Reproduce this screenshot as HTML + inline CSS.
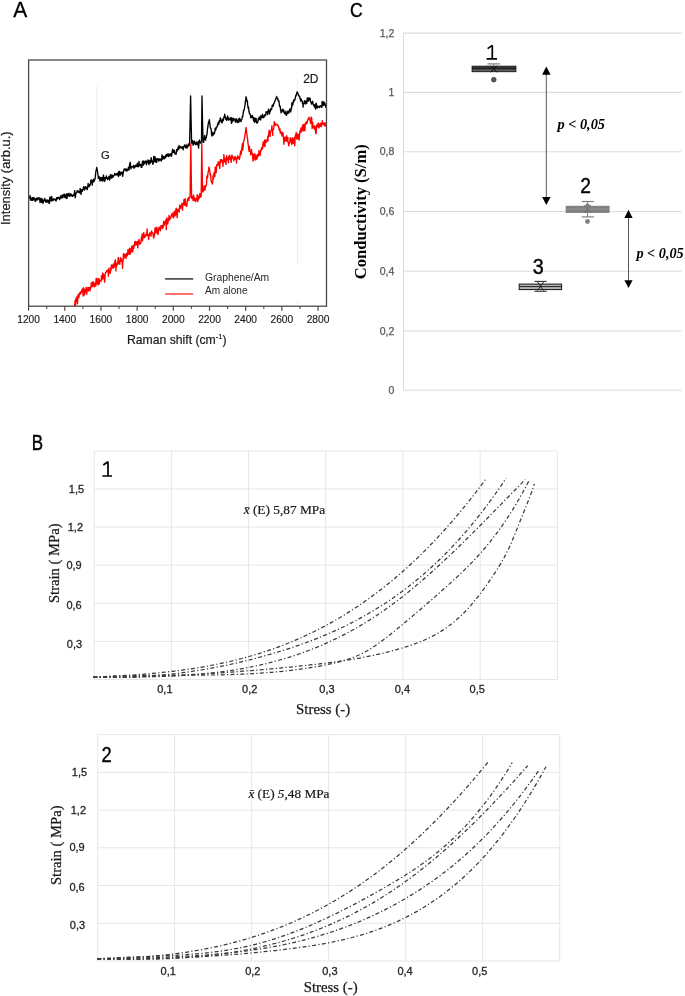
<!DOCTYPE html><html><head><meta charset="utf-8"><style>html,body{margin:0;padding:0;background:#fff;}svg{display:block;will-change:transform;}.s{font-family:"Liberation Sans",sans-serif;}.r{font-family:"Liberation Serif",serif;}</style></head><body>
<svg width="685" height="996" viewBox="0 0 685 996">
<rect width="685" height="996" fill="#fff"/>
<text class="s" x="13.2" y="16.7" font-size="22.8" textLength="14" lengthAdjust="spacingAndGlyphs" fill="#000" stroke="#000" stroke-width="0.35">A</text>
<line x1="97" y1="86" x2="97" y2="304" stroke="#bbbbbb" stroke-width="0.7" stroke-dasharray="0.8,1.2"/>
<line x1="297.4" y1="79.5" x2="297.4" y2="265" stroke="#bbbbbb" stroke-width="0.7" stroke-dasharray="0.8,1.2"/><rect x="297" y="301.8" width="0.9" height="0.9" fill="#c8c8c8"/>
<polyline points="28.6,197.8 28.92,197.33 29.24,196.66 29.56,196.6 29.88,198.47 30.2,195.68 30.52,200.15 30.84,198.1 31.16,198.86 31.48,199.02 31.8,200.42 32,199 32.12,197.71 32.44,198.71 32.76,200.32 33.08,197.71 33.4,198.2 33.72,197.75 34.04,199.14 34.36,199.74 34.68,198.1 35,200.95 35.32,201.21 35.64,200.67 35.96,200.66 36.28,198.56 36.6,198.66 36.92,197.84 37.24,198.89 37.56,199.96 37.88,198.47 38,199.5 38.2,198.06 38.52,197.82 38.84,198.29 39.16,199.04 39.48,198.04 39.8,200.27 40.12,202.64 40.44,201.43 40.76,199.5 41.08,198.21 41.4,199.04 41.72,202.34 42.04,200.43 42.36,199.14 42.68,200.86 43,203.46 43.32,201.25 43.64,201.29 43.96,200.79 44.28,199.46 44.6,198.33 44.92,199.38 45.24,200.16 45.56,201.56 45.88,202.28 46,200.5 46.2,201.51 46.52,201.62 46.84,199.9 47.16,202.16 47.48,201.36 47.8,200.07 48.12,200.78 48.44,200.51 48.76,202.26 49.08,203.42 49.4,203.34 49.72,197.97 50.04,196.98 50.36,198.57 50.68,200.09 51,201.17 51.32,199.72 51.64,196.45 51.96,198.64 52.28,200.7 52.6,200.28 52.92,200.52 53.24,199.14 53.56,198.92 53.88,199.54 54.2,199.89 54.52,199.56 54.84,199.05 55,199 55.16,199.35 55.48,199.55 55.8,200.95 56.12,200.96 56.44,199.15 56.76,197.77 57.08,197.44 57.4,198.78 57.72,198.37 58.04,197.64 58.36,197.79 58.68,197.24 59,198.58 59.32,197.71 59.64,199.55 59.96,198.8 60.28,198.18 60.6,195.97 60.92,197.45 61.24,198.1 61.56,195.81 61.88,196.32 62,197 62.2,194.94 62.52,197.15 62.84,197.85 63.16,195.7 63.48,196.35 63.8,194.51 64.12,195.3 64.44,194.09 64.76,197.45 65.08,197.01 65.4,195.75 65.72,195.03 66.04,198.06 66.36,198.44 66.68,193.7 67,195.4 67,198.43 67.32,196.02 67.64,193.87 67.96,196.15 68.28,195.04 68.6,193.8 68.92,193.24 69.24,195.82 69.56,196.27 69.88,194.5 70.2,195.21 70.52,193.62 70.84,195.78 71.16,195.14 71.48,194.52 71.8,194.85 72.12,196.29 72.44,196.32 72.76,195.77 73.08,195.03 73.4,194.95 73.72,195.59 74,194.5 74.04,195.5 74.36,193.23 74.68,190.59 75,195.43 75.32,197.59 75.64,194.91 75.96,193.3 76.28,192.89 76.6,192.76 76.92,192.41 77.24,190.72 77.56,190.93 77.88,190.61 78.2,192.01 78.52,191.65 78.84,192.28 79.16,191.71 79.48,192.84 79.8,192.49 80,191 80.12,188.51 80.44,189.38 80.76,192.5 81.08,194.39 81.4,190.53 81.72,189.76 82.04,189.75 82.36,191.31 82.68,189.43 83,189.85 83.32,188.1 83.64,186.61 83.96,188.59 84.28,189.45 84.6,190.05 84.92,187.77 85.24,186.71 85.56,188.04 85.88,187.73 86,187 86.2,187.23 86.52,188.53 86.84,188.01 87.16,189.63 87.48,188.55 87.8,186.62 88.12,183.46 88.44,185.87 88.76,186.23 89.08,186.63 89.4,186.43 89.72,184.46 90.04,185.2 90.36,184.08 90.4,184 90.68,181.8 91,179.84 91.32,179.88 91.64,180.76 91.96,181.43 92.28,185.09 92.6,182.01 92.92,180.25 93,182 93.24,180.66 93.56,179.26 93.88,181.68 94.2,181.11 94.52,179.47 94.8,179 94.84,179.61 95.16,178.14 95.48,175.13 95.8,172 95.8,172.1 96.12,170.14 96.44,169.6 96.7,167.5 96.76,167.62 97.08,169.1 97.4,170.87 97.6,172 97.72,172.97 98.04,175.54 98.36,178.51 98.6,178 98.68,176.3 99,176.46 99.32,177.32 99.64,177.33 99.96,180.98 100,180.5 100.28,179.65 100.6,179.48 100.92,177.37 101.24,178.01 101.56,180.29 101.88,180.12 102,179 102.2,181.16 102.52,177.34 102.84,177.75 103.16,177.32 103.48,174.89 103.8,180.73 104.12,179.33 104.44,177.58 104.76,181.32 105.08,179.95 105.4,178.8 105.72,177.31 106.04,177.45 106.36,175.86 106.68,178.43 107,177.48 107.32,178.15 107.64,179.58 107.96,178.43 108.28,178.02 108.6,177.62 108.92,176.51 109.24,178.74 109.56,180.01 109.88,179 110,177 110.2,175.57 110.52,174.69 110.84,174.56 111.16,177.87 111.48,176.88 111.8,178.09 112.12,175.26 112.44,175.12 112.76,176.2 113.08,177.23 113.4,176.1 113.72,175.86 114.04,175.53 114.36,175.16 114.68,173.49 115,174.69 115.32,174.58 115.64,174.75 115.96,175.12 116.28,173.56 116.6,173.89 116.92,173.87 117.24,174.89 117.56,174.99 117.88,172.81 118.2,174.97 118.52,176.47 118.84,171.59 119.16,171.26 119.48,171.47 119.8,172.88 120.12,175.34 120.44,173.13 120.7,172.7 120.76,173.2 121.08,172.14 121.4,173.93 121.72,173.42 122.04,173.96 122.36,172.19 122.68,176.29 123,173.88 123.32,172.47 123.64,170.92 123.96,169.42 124.28,169.04 124.6,169.72 124.92,169.12 125.24,170.01 125.56,168.96 125.88,170.75 126.2,171.01 126.52,169.01 126.84,170.73 127.16,169.43 127.48,170.68 127.8,170.08 128.12,170.02 128.44,167.09 128.76,168.09 129.08,169.92 129.4,166.6 129.72,163.58 130,167.4 130.04,162.19 130.36,163.11 130.68,166.35 131,168.89 131.32,166.98 131.64,167.39 131.96,166.95 132.28,166.87 132.6,166.57 132.92,166.64 133.24,167.02 133.56,165.36 133.88,168.1 134.2,168.25 134.52,166.76 134.84,167.38 135.16,165.38 135.48,165.3 135.8,166.24 136.12,165.79 136.44,165.14 136.76,164.68 137,166 137.08,166.59 137.4,163.28 137.72,165.56 138.04,165.61 138.36,166.71 138.68,165.49 139,161.33 139.32,165.23 139.64,165.72 139.96,164.89 140.28,164.35 140.6,165.69 140.92,164.79 141.24,167.3 141.56,166.49 141.88,167.41 142.2,162.98 142.52,161.22 142.84,164.63 143.16,165.27 143.48,163.42 143.8,160.97 144,163.4 144.12,164.11 144.44,163.14 144.76,162.86 145.08,162.44 145.4,161.29 145.72,161.26 146.04,160.97 146.36,164.75 146.68,162.56 147,162.69 147.32,161.2 147.64,162.52 147.96,159.83 148.28,162.84 148.6,162.89 148.92,164.65 149.24,160.45 149.56,161.45 149.88,162.54 150.2,163.32 150.52,161.13 150.84,160.53 151.16,157.59 151.48,159.2 151.8,161.72 152.12,162.59 152.44,161.34 152.76,164.29 153.08,163.9 153.4,160.12 153.5,160.4 153.72,156.54 154.04,158.82 154.36,161.7 154.68,160.19 155,156.73 155.32,159.32 155.64,162.02 155.96,159.34 156.28,158.93 156.6,162.37 156.92,159.94 157.24,158.63 157.56,159.52 157.88,159.03 158.2,158.68 158.52,160.92 158.84,161.13 159.16,160.26 159.48,159.03 159.8,160.15 160.12,158.79 160.44,159.28 160.76,160.15 161.08,160.21 161.4,161.11 161.72,158.57 162.04,154.91 162.36,155.74 162.68,159.12 162.8,157.5 163,157.62 163.32,156.42 163.64,158.26 163.96,157.2 164.28,158.79 164.6,156.73 164.92,158.33 165.24,157.58 165.56,155.75 165.88,157.29 166.2,154.69 166.52,154.52 166.84,156.34 167.16,154.64 167.48,154.19 167.8,154.22 168.12,153.83 168.44,156.47 168.76,156.11 169.08,154.77 169.4,154.53 169.72,155.66 170,154.3 170.04,156.03 170.36,153.86 170.68,154.91 171,153.75 171.32,153.83 171.64,156.05 171.96,153.02 172.28,151.51 172.6,149.22 172.92,150.01 173.24,152.49 173.56,151.56 173.88,152.33 174.2,150.15 174.52,150.45 174.84,152.86 175.16,154.08 175.48,153.03 175.8,153.66 176.12,154.24 176.44,152.56 176.76,149.42 176.8,150.5 177.08,151.15 177.4,149.89 177.72,150.04 178.04,147.27 178.36,148.03 178.68,149.28 179,145.67 179.32,146.69 179.64,148 179.96,146.15 180.28,147.87 180.6,147.13 180.92,147.47 181.24,147.66 181.56,147.94 181.88,146.97 182.2,147.33 182.52,146.69 182.84,148.45 183.16,149.91 183.48,147.8 183.8,146.65 184,146.6 184.12,146.97 184.44,145.15 184.76,144.87 185.08,146.65 185.4,146.65 185.72,147.89 186.04,147.88 186.36,144.98 186.68,145.72 187,148.01 187.32,147.07 187.64,146.43 187.96,146.46 188.28,143.96 188.6,145.05 188.92,145.84 189.24,145.17 189.56,143.19 189.6,143.5 189.88,130.46 190.1,120 190.2,115.08 190.52,100.04 190.6,96 190.84,106.83 191.1,120 191.16,122.57 191.48,136.85 191.6,143 191.8,143.15 192.12,140.78 192.44,140.47 192.76,142.5 193.08,145.22 193.4,145.04 193.72,141.59 194.04,141.85 194.36,140.95 194.68,143.57 195,143 195,142.63 195.32,144.41 195.64,143.36 195.96,144.71 196.28,142.01 196.6,143.24 196.92,144.01 197.24,143.08 197.56,144.76 197.88,143.19 198.2,141.33 198.52,148.07 198.84,144.57 199.16,142.09 199.48,140.01 199.8,141.61 200,142 200.12,142.68 200.44,142.72 200.76,143.25 201.08,142.01 201.4,141.77 201.5,141.5 201.72,121.44 202,96 202.04,98.39 202.36,113.62 202.5,120 202.68,127.21 203,141.5 203,142.2 203.32,141.58 203.64,142.29 203.96,139.85 204.28,139.11 204.6,135.48 204.92,137.25 205,139 205.24,139.53 205.56,140.13 205.88,137.46 206.2,137.87 206.52,136.26 206.84,135.04 207,133 207.16,133.28 207.48,128.93 207.8,127.52 208.12,124.55 208.3,124 208.44,122.51 208.76,121.73 209.08,120.73 209.3,119.7 209.4,119.99 209.72,123.09 210.04,125.21 210.36,127.85 210.5,128 210.68,128.18 211,128.28 211.32,131.04 211.64,135.24 211.96,134.84 212,136 212.28,134.99 212.6,134.8 212.92,132.17 213.24,135.12 213.56,134.02 213.88,134.28 214.2,133.18 214.52,133.06 214.84,131.62 215,131 215.16,128.2 215.48,128 215.8,129.95 216.12,128.58 216.44,127.34 216.76,126.85 217.08,126.84 217.4,125.02 217.72,125.17 218.04,122.78 218.36,122.84 218.68,124.46 219,122 219,120.94 219.32,122.35 219.64,120.44 219.96,121.44 220.28,118 220.6,118.29 220.92,119.36 221.24,120.38 221.56,122.53 221.88,122.24 222.2,122.74 222.52,121.66 222.84,119.02 223.16,118.75 223.48,120.24 223.7,118.5 223.8,117.84 224.12,116.39 224.44,117.03 224.76,114.1 225.08,116.66 225.4,117.2 225.72,119.25 226.04,118.07 226.36,118.49 226.68,120.36 227,117.7 227.32,118.3 227.64,116.03 227.96,118.49 228.28,119.81 228.6,120.05 228.92,117.92 229.24,119.24 229.56,119.55 229.88,119.12 230,119 230.2,119.93 230.52,119.54 230.84,117.37 231.16,117.89 231.48,123.39 231.8,122.68 232.12,118.06 232.44,119.93 232.76,120.91 233.08,121.03 233.4,119.84 233.72,118.3 234.04,119.06 234.36,119.1 234.68,119.89 235,120 235,120.04 235.32,122 235.64,121.97 235.96,118.63 236.28,118.9 236.6,119.35 236.92,121.99 237.24,121.24 237.56,122.57 237.88,120.33 238.2,120.08 238.52,119.07 238.84,122.21 239.16,120.21 239.48,118.29 239.8,118.8 240,121 240.12,120.04 240.44,120.55 240.76,120.76 241.08,121.57 241.4,119.06 241.72,119.5 242.04,118.42 242.36,116.34 242.5,117 242.68,116.8 243,114.29 243.32,112.75 243.64,110.12 243.96,110.47 244.28,109.18 244.5,108 244.6,107.34 244.92,105.68 245.24,103.11 245.56,100.72 245.88,98.98 246,96.8 246.2,97.48 246.52,98.91 246.84,100.87 247.16,101.53 247.48,101.07 247.5,104 247.8,105.63 248.12,108.21 248.44,106.8 248.76,109.22 249,112 249.08,111.17 249.4,113.38 249.72,113.73 250.04,114.34 250.36,114.22 250.68,117.49 251,116 251,117.85 251.32,116.3 251.64,117.25 251.96,115.9 252.28,115.5 252.6,116.36 252.92,117.76 253.24,118.64 253.56,120.76 253.88,117.58 254.2,118.06 254.52,122.37 254.84,121.14 255.16,118.09 255.48,121.2 255.8,121.16 256.12,118.34 256.4,122 256.44,122.06 256.76,123.14 257.08,123.18 257.4,121.97 257.72,122.47 258.04,120.47 258.36,118.69 258.68,118.56 259,119.71 259.32,116.95 259.64,119.33 259.96,117.43 260,119 260.28,119.85 260.6,119.95 260.92,115.46 261.24,116.2 261.56,117.44 261.88,116.97 262.2,117.79 262.52,114.3 262.84,116.88 263.16,117.42 263.48,116.97 263.8,117.46 264,116 264.12,116.93 264.44,115.03 264.76,115.92 265.08,114.79 265.4,115.83 265.72,115.05 266.04,111.66 266.36,112.59 266.68,112.71 267,111.98 267.32,111.63 267.64,114.58 267.96,112.99 268,111.5 268.28,110.57 268.6,109.27 268.92,110.47 269.24,110.53 269.56,113.9 269.88,111.62 270.2,111.62 270.52,109.52 270.84,108.76 271.16,109.07 271.48,109.68 271.7,108.7 271.8,108.32 272.12,106.22 272.44,104.97 272.76,105.79 273.08,106.29 273.4,105.38 273.72,103.62 274,103 274.04,103.12 274.36,102.99 274.68,101.5 275,100.67 275.32,99.88 275.64,99.57 275.96,98.19 276.28,97.58 276.6,96.97 276.7,96.5 276.92,97.74 277.24,98.28 277.56,98.88 277.88,98.57 278.2,100.97 278.5,101 278.52,100.45 278.84,100.54 279.16,102.97 279.48,106.08 279.8,106.5 280.12,106.05 280.4,107.6 280.44,109.46 280.76,110.29 281.08,112.86 281.4,111.48 281.72,110.55 282.04,110.87 282.36,109.72 282.68,109.26 283,111.38 283.32,112.08 283.64,110.02 283.96,111.25 284.28,112.44 284.5,113.4 284.6,113.19 284.92,113.86 285.24,113.75 285.56,114.08 285.88,111.11 286.2,115.18 286.52,115.34 286.84,113.22 287.16,113.55 287.48,113.11 287.8,111.2 288,112 288.12,113.24 288.44,112.67 288.76,113.04 289.08,111.5 289.4,110.58 289.72,109.1 290.04,109.11 290.36,109.51 290.68,112.03 291,109.77 291.32,107.54 291.5,108.7 291.64,107.12 291.96,102.75 292.28,105.64 292.6,103.45 292.92,104.62 293.24,101.85 293.56,100.29 293.88,101.55 293.9,101.7 294.2,99.66 294.52,100.15 294.84,99.93 295.16,98.84 295.48,96.76 295.8,95.48 296.12,95.81 296.44,93.92 296.76,93.46 297.08,91.93 297.1,91.8 297.4,92.82 297.72,92.76 298.04,93.85 298.36,95.08 298.68,95.76 299,95.62 299.32,96.48 299.64,95.99 299.7,97 299.96,98.51 300.28,98.18 300.6,101.09 300.92,100.74 301.24,99.11 301.56,100.4 301.88,100.95 302.2,101.16 302.52,103.45 302.84,103.79 303.16,107.15 303.2,104.6 303.48,103.11 303.8,103.33 304.12,102.39 304.44,100.61 304.76,103.56 305.08,103.93 305.4,102.98 305.6,101.1 305.72,102.46 306.04,101.19 306.36,102.63 306.68,103.63 307,100.64 307.32,97.87 307.64,99.18 307.96,101.03 308.28,101.27 308.6,97.97 308.92,98.6 309.24,99.45 309.56,99.87 309.6,98.8 309.88,97.99 310.2,99.22 310.52,101.95 310.84,102.05 311.16,102.72 311.48,104.01 311.8,103.36 312,103 312.12,102.44 312.44,101.1 312.76,101.79 313.08,104.33 313.4,104.72 313.72,104.76 314.04,106.22 314.36,105.51 314.68,107.12 314.9,107.6 315,105.53 315.32,104.21 315.64,109.09 315.96,107.55 316.28,103.28 316.6,105.98 316.92,107.73 317.24,107.27 317.56,107.76 317.88,105.97 318.2,107.11 318.52,107.05 318.84,106.72 319.16,106.72 319.48,107.56 319.6,107 319.8,106.19 320.12,105.82 320.44,106.37 320.76,106.03 321.08,106.56 321.4,107.16 321.72,107.42 322,105 322.04,101.44 322.36,104.33 322.68,105.6 323,104.98 323.32,104.16 323.64,101.7 323.96,105.26 324.28,104.63 324.6,102.8 324.92,103.46 325.24,104.23 325.56,106.55 325.88,107.34 326,105.8" fill="none" stroke="#000" stroke-width="1.35" stroke-linejoin="round"/>
<polyline points="74.5,306.2 74.8,304.21 75.1,300.55 75.4,305.64 75.7,299.15 76,299.42 76,302 76.3,298.12 76.6,297.02 76.9,297.45 77.2,301.03 77.5,303.92 77.8,298.28 78.1,294.57 78.4,296.53 78.7,294.28 78.7,295.4 79,297.53 79.3,293.84 79.6,293.99 79.9,292.46 80.2,293.68 80.5,294.17 80.8,291.61 81.1,292.33 81.4,292.49 81.7,291.13 82,289.33 82.3,288.94 82.6,291.48 82.9,292.87 83.2,296.07 83.5,287.58 83.8,291.08 84.1,293.21 84.4,294.99 84.7,292.62 85,289.3 85,291 85.3,291.91 85.6,290.56 85.9,291.15 86.2,287.19 86.5,293.89 86.8,293.98 87.1,289.97 87.4,290.81 87.7,289.36 88,287.32 88.3,289.27 88.6,290.97 88.9,288.05 89.2,287.34 89.5,288.11 89.8,289.67 90.1,290.74 90.4,287.12 90.7,288.49 91,287.17 91.3,282.76 91.6,285.02 91.9,286.26 92.2,286.61 92.5,286.15 92.8,281.71 93.1,284.82 93.4,283.62 93.7,282.29 94,286.37 94.3,286.96 94.6,284.42 94.9,286.39 95,284.9 95.2,284.12 95.5,282.68 95.8,285.9 96.1,278.4 96.4,282.32 96.7,283.75 97,278.45 97.3,281.12 97.6,282.44 97.9,284.48 98.2,284.79 98.5,280.4 98.8,278.38 99.1,283.88 99.4,283.76 99.7,279.91 100,280.67 100.3,280.94 100.6,280.9 100.9,280.45 101.2,281.19 101.5,275.6 101.8,279.83 102,277.9 102.1,278.07 102.4,278.95 102.7,272.95 103,278.63 103.3,277.52 103.6,274.11 103.9,276.32 104.2,276.52 104.5,282.17 104.8,280.88 105.1,276.41 105.4,272.82 105.7,272.39 106,272.64 106.3,271.76 106.6,270.71 106.9,271.12 107.2,271.59 107.5,270.8 107.8,269.85 108.1,270.66 108.4,276.29 108.7,268.65 109,268.13 109,271 109.3,270.37 109.6,271.6 109.9,272.76 110.2,273.45 110.5,271.33 110.8,267.77 111.1,270.04 111.4,264.95 111.7,266.84 112,266.18 112.3,265.2 112.6,268.05 112.9,267.36 113.2,268.21 113.5,263.87 113.8,267.53 114.1,267.39 114.4,265.28 114.7,261.8 115,262.78 115.3,259.79 115.6,260.26 115.9,270.93 116,263.8 116.2,268.05 116.5,263.64 116.8,264.89 117.1,265.16 117.4,264.41 117.7,262.62 118,260.63 118.3,257.35 118.6,262.29 118.9,263.29 119.2,263.87 119.5,261.76 119.8,264.4 120.1,259.7 120.4,257.59 120.7,261.32 121,258.52 121.2,259.6 121.3,259.54 121.6,261.12 121.9,260.07 122.2,261.89 122.5,268.43 122.8,262.67 123.1,260.64 123.4,253.72 123.7,257.31 124,258.55 124.3,255.57 124.6,254.15 124.9,256.18 125.2,254.73 125.5,254.29 125.8,257.97 126.1,258.44 126.4,255.47 126.7,253.39 127,255.1 127.3,255.91 127.6,254.27 127.9,249.6 128.2,251.19 128.5,253.18 128.8,254 129.1,254.5 129.2,251.5 129.4,248.7 129.7,248.2 130,248.42 130.3,254.05 130.6,251.68 130.9,251.68 131.2,252 131.5,248.38 131.8,245.87 132.1,246.97 132.4,248.49 132.7,251.83 133,249.91 133.3,245.65 133.6,248.46 133.9,248.3 134.2,244.36 134.5,244.51 134.8,241.74 135.1,245.29 135.4,244.07 135.7,241.38 136,242.54 136.3,244.33 136.5,244.2 136.6,244.8 136.9,244.85 137.2,241.75 137.5,243.23 137.8,247.9 138.1,243.7 138.4,240.64 138.7,241.3 139,239.47 139.3,243.84 139.6,243.39 139.9,244.31 140.2,243.72 140.5,242.47 140.8,242.91 141.1,240.7 141.4,237.9 141.7,236.66 142,236.52 142.3,233.93 142.6,240.9 142.9,235.41 143.2,236.56 143.5,233.88 143.8,232.33 143.8,237.7 144.1,236.49 144.4,236.69 144.7,237.43 145,235.2 145.3,236.61 145.6,236.61 145.9,234.36 146.2,234.08 146.5,235.39 146.7,234 146.8,233.27 147.1,228.82 147.4,233.5 147.7,235.33 148,234.69 148.3,236.45 148.6,239.56 148.9,236.57 149.2,236.41 149.5,233.34 149.8,232.92 150.1,233.66 150.4,233.25 150.7,235.02 151,233.9 151.1,236.2 151.3,231.82 151.6,230.94 151.9,232.66 152.2,232.2 152.5,232.75 152.8,232.94 153.1,234.01 153.4,237.29 153.7,238.17 154,236.07 154.3,233.93 154.6,235.94 154.9,229.38 155.2,227.64 155.5,232.32 155.8,232.52 156.1,231.92 156.4,231.18 156.7,227.4 157,228.64 157.3,234.06 157.6,233.66 157.9,230.6 158.2,234.14 158.4,230.4 158.5,228.61 158.8,229.85 159.1,226.93 159.4,227.72 159.7,228.42 160,228.43 160.3,230.84 160.6,229.72 160.9,225.62 161.2,225.91 161.5,227.72 161.8,226.95 162.1,225.5 162.4,227.88 162.7,228.41 163,225.69 163.3,226.8 163.6,221.67 163.9,221.29 164.2,225.24 164.2,225.3 164.5,222.05 164.8,223.06 165.1,222.56 165.4,223.39 165.7,219.9 166,222.87 166.3,229.66 166.6,222.95 166.9,217.61 167.2,221.99 167.5,223.13 167.8,224.01 168.1,220.77 168.4,218.93 168.6,219.4 168.7,220.7 169,215.36 169.3,219.07 169.6,218.28 169.9,219.72 170.2,217.08 170.5,218.28 170.8,217.23 171.1,217.09 171.4,215.24 171.7,213.82 172,214.56 172.3,215.55 172.6,215.48 172.9,217.1 173,212.8 173.2,215.46 173.5,217.84 173.8,214 174.1,213.42 174.4,211.25 174.7,212.87 175,216.13 175.3,214.32 175.6,214.95 175.9,209.44 176.2,208.17 176.5,211.03 176.8,209.9 177.1,217.6 177.4,214.99 177.4,211.4 177.7,209.61 178,209.2 178.3,210.55 178.6,209.94 178.9,211.76 179.2,212.16 179.5,207.55 179.8,204.88 180.1,207.56 180.4,206.89 180.7,208.41 181,206.05 181.3,206.94 181.6,205.53 181.8,204.1 181.9,203.23 182.2,206.43 182.5,210.1 182.8,206.34 183.1,203.42 183.4,204.32 183.7,202.41 184,199.42 184.3,202.75 184.6,205.21 184.9,200.85 185.2,198.59 185.5,202.32 185.8,205.52 186.1,203.9 186.4,204.01 186.7,206.42 187,204.76 187.3,201.61 187.6,198.94 187.6,199 187.9,199.01 188.2,199.99 188.5,197.49 188.8,200.6 189.1,198.41 189.4,197.31 189.7,197.61 190,195.54 190.1,197 190.3,178.62 190.4,170 190.6,156.75 190.8,143.5 190.9,150.11 191.2,170.16 191.2,170 191.5,191.61 191.6,198 191.8,198.45 192.1,197.56 192.4,196.64 192.7,198.25 193,200.52 193.3,196.44 193.6,195 193.9,198.28 194.2,200.67 194.3,199.6 194.5,197.79 194.8,199.3 195.1,198.6 195.4,200.04 195.7,201.67 196,199.2 196.3,198.65 196.6,199.94 196.9,197.82 197,198 197.2,194.58 197.5,195.74 197.8,201.64 198.1,198.85 198.4,199.32 198.7,199.05 199,196 199.3,198.13 199.6,195.57 199.9,193.32 200.2,195.88 200.2,197.2 200.5,195.95 200.8,196.58 201.1,196.68 201.2,195 201.4,178.22 201.5,170 201.7,152.47 201.8,143.5 202,155.99 202.2,170 202.3,175.13 202.6,191.01 202.6,192 202.9,190.34 203.2,191.71 203.5,189.19 203.7,190.2 203.8,189.28 204.1,186.42 204.4,186.05 204.7,190.1 205,190.16 205.3,185.99 205.6,187 205.9,185.88 206,186 206.2,185.54 206.5,184.23 206.8,177.2 207.1,175.58 207.4,178.11 207.5,178 207.7,176.9 208,172.7 208.3,171.47 208.6,170.54 208.9,167.21 209,167 209.2,167.87 209.5,169.83 209.8,171.44 210.1,174.82 210.2,175 210.4,173.49 210.7,175.62 211,180.23 211.3,181.01 211.6,182.47 211.9,182.41 211.9,182 212.2,183.06 212.5,184 212.8,179.71 213.1,175.43 213.4,179.13 213.7,176.43 214,172.63 214.3,172.82 214.6,171.97 214.9,176.49 215,172 215.2,167.01 215.5,170.44 215.8,169.5 216.1,172.74 216.4,169.66 216.7,164.79 217,165.98 217.3,164.91 217.6,164.92 217.9,164.16 218.2,161.63 218.5,165.01 218.8,163.1 219.1,162.82 219.4,166.67 219.7,168.36 220,163.78 220,163.4 220.3,159.6 220.6,162.94 220.9,161.62 221.2,161.54 221.5,159.66 221.8,160.02 222.1,160.62 222.4,160.83 222.7,163.29 223,166.39 223.3,160.51 223.6,159.14 223.7,160.6 223.9,154.55 224.2,161.78 224.5,157.65 224.8,157.95 225.1,160.38 225.4,162.44 225.7,162.2 226,164.39 226.3,159.54 226.6,155.62 226.9,159.26 227.2,159.65 227.5,157.64 227.8,158.09 228.1,158.82 228.4,162.82 228.7,158.08 229,155.87 229.3,158.23 229.6,155.24 229.9,159.31 230,159 230.2,156.93 230.5,156.89 230.8,157.98 231.1,162.41 231.4,159.84 231.7,155.46 232,155.08 232.3,157.74 232.6,158.03 232.9,156.78 233.2,158.55 233.5,158.52 233.8,160.85 234.1,159.68 234.4,158.19 234.7,157.89 235,156.47 235,158 235.3,159.06 235.6,157.16 235.9,157.62 236.2,157.81 236.5,162.96 236.8,158.09 237.1,158.74 237.4,158.22 237.7,155.8 238,156.86 238.3,156.72 238.6,157.82 238.9,158.32 239.2,159.45 239.5,159.09 239.8,156.23 240,157 240.1,154.67 240.4,152.73 240.7,150.89 241,154.69 241.3,153.37 241.6,151.17 241.9,147 242.2,145.31 242.5,143.4 242.5,150 242.8,149.99 243.1,148.07 243.4,144.18 243.7,140.47 244,140.56 244.3,139.44 244.5,138 244.6,138.45 244.9,135.22 245.2,133.38 245.5,131.79 245.8,129.66 246,128 246.1,127.31 246.4,130.12 246.7,133.14 247,135.16 247.3,137.76 247.5,138 247.6,138.93 247.9,142.35 248.2,144.58 248.5,146.45 248.8,150.04 249,148 249.1,151.48 249.4,146.33 249.7,148.87 250,151.07 250.3,151.71 250.6,151.48 250.6,154.8 250.9,153.29 251.2,153.57 251.5,149.39 251.8,152.77 252.1,154.06 252.4,153.56 252.7,158.01 253,161.14 253.3,154.55 253.6,154.37 253.9,159.95 254.2,158.17 254.5,155.19 254.8,153.64 255.1,157.67 255.4,158.24 255.7,160 256,155.52 256.3,155.98 256.4,157 256.6,156.59 256.9,159.06 257.2,158.04 257.5,154.36 257.8,154.41 258.1,154.5 258.4,156.07 258.7,153.29 259,150.55 259.3,151.6 259.6,152.73 259.9,154.87 260,152 260.2,155.42 260.5,152.28 260.8,149.76 261.1,150.92 261.4,148.9 261.7,147.4 262,148.79 262.3,149.16 262.6,148.84 262.9,144.04 263.2,141.9 263.5,145.24 263.5,145.4 263.8,146.16 264.1,142.05 264.4,141.11 264.7,139.94 265,146.5 265.3,142.31 265.6,141.22 265.9,140.03 266.2,140.51 266.5,142.26 266.8,140.57 267.1,140.04 267.4,141 267.7,136.46 268,140.67 268,138 268.3,135.17 268.6,136.27 268.9,132.59 269.2,130.05 269.5,132.76 269.8,136.18 270.1,136.35 270.4,133.13 270.7,131.15 271,131.27 271.3,130.39 271.6,129.08 271.9,125.6 272.2,129.31 272.5,131.31 272.8,135.45 272.8,130.2 273.1,129.6 273.4,129.24 273.7,128.85 274,125.33 274.3,121.72 274.6,123.95 274.9,125.4 275.2,125.38 275.5,123.72 275.5,125 275.8,124.34 276.1,124.83 276.4,124.93 276.7,124.49 277,124.48 277,124.4 277.3,125.38 277.6,125.6 277.9,125.16 278.2,126.42 278.5,127.41 278.8,126.83 279.1,129.78 279.4,129.43 279.7,130.66 280,129.01 280,131 280.3,133.11 280.6,131.32 280.9,131.7 281.2,131.97 281.5,134.3 281.8,134.85 282.1,136.08 282.4,135 282.7,132.48 283,132.78 283.3,135.78 283.6,139.77 283.9,144.27 284.2,141.78 284.5,137.54 284.5,139.6 284.8,139.76 285.1,139.3 285.4,137.29 285.7,141.14 286,139.97 286.3,137.84 286.6,135.59 286.9,141.13 287.2,140.36 287.5,138.87 287.8,137.39 288,140 288.1,142.94 288.4,142.99 288.7,145.77 289,144.14 289.3,142.47 289.6,143.2 289.9,141.14 290.2,137.65 290.5,139.44 290.8,141.57 291.1,139.48 291.4,139.63 291.5,142 291.7,144.42 292,138.81 292.3,137.78 292.6,138.94 292.9,143.13 293.2,143.32 293.5,139.81 293.8,140.61 294.1,137.96 294.4,140.34 294.7,145.73 295,142.43 295,139 295.3,135.48 295.6,136.46 295.9,133.92 296.2,132.54 296.5,138.3 296.8,139.18 297.1,138.43 297.4,138.5 297.7,133.99 298,138.28 298.3,134.53 298.5,136 298.6,137.58 298.9,138.98 299.2,140.07 299.5,135.82 299.8,132.42 300.1,130.52 300.4,132.25 300.7,129.58 301,127.9 301.3,130.21 301.6,131.79 301.9,129.05 302.2,126.91 302.5,128.08 302.8,124.8 303,128 303.1,130.57 303.4,129.59 303.7,130.78 304,124.39 304.3,127.38 304.6,126.72 304.9,130.78 305.2,124.88 305.5,122.84 305.8,124.11 306.1,123.17 306.4,121.73 306.7,123.78 307,123.21 307.3,122.47 307.6,120.77 307.9,118.91 307.9,119.7 308.2,119.25 308.5,118.19 308.8,118.69 309,117.4 309.1,117.29 309.4,118.78 309.7,119.24 310,120.74 310.3,121.28 310.6,123.48 310.9,120.75 311.2,116.97 311.5,117.51 311.8,119.33 312,124 312.1,128.55 312.4,124.47 312.7,122.37 313,126.87 313.3,127.44 313.6,126.3 313.9,128.03 314.2,127.44 314.5,126 314.8,129.59 314.9,129 315.1,126.25 315.4,128.28 315.7,132.7 316,133.94 316.3,131.61 316.6,126.4 316.9,124.62 317.2,126.98 317.5,126.35 317.8,125.87 318,126 318.1,122.81 318.4,123.26 318.7,127.43 319,128 319.3,124.59 319.6,126.53 319.9,126.45 320.2,123.51 320.5,124.81 320.8,125.98 321.1,123.13 321.4,126.57 321.7,124.32 322,123.91 322,124 322.3,120.65 322.6,124.11 322.9,124.04 323.2,123.06 323.5,123.65 323.8,124.96 324.1,123.81 324.4,122.98 324.7,124.57 325,126.1 325.3,124.39 325.6,122.95 325.9,125.77 326,124.4" fill="none" stroke="#ff0000" stroke-width="1.35" stroke-linejoin="round"/>
<rect x="28.6" y="60.0" width="297.9" height="246.2" fill="none" stroke="#4a4a4a" stroke-width="1.3"/>
<line x1="28.6" y1="306.2" x2="28.6" y2="310.7" stroke="#4a4a4a" stroke-width="1.2"/>
<line x1="46.69" y1="306.2" x2="46.69" y2="308.8" stroke="#4a4a4a" stroke-width="1.2"/>
<line x1="64.78" y1="306.2" x2="64.78" y2="310.7" stroke="#4a4a4a" stroke-width="1.2"/>
<line x1="82.87" y1="306.2" x2="82.87" y2="308.8" stroke="#4a4a4a" stroke-width="1.2"/>
<line x1="100.96" y1="306.2" x2="100.96" y2="310.7" stroke="#4a4a4a" stroke-width="1.2"/>
<line x1="119.05" y1="306.2" x2="119.05" y2="308.8" stroke="#4a4a4a" stroke-width="1.2"/>
<line x1="137.14" y1="306.2" x2="137.14" y2="310.7" stroke="#4a4a4a" stroke-width="1.2"/>
<line x1="155.23" y1="306.2" x2="155.23" y2="308.8" stroke="#4a4a4a" stroke-width="1.2"/>
<line x1="173.32" y1="306.2" x2="173.32" y2="310.7" stroke="#4a4a4a" stroke-width="1.2"/>
<line x1="191.41" y1="306.2" x2="191.41" y2="308.8" stroke="#4a4a4a" stroke-width="1.2"/>
<line x1="209.5" y1="306.2" x2="209.5" y2="310.7" stroke="#4a4a4a" stroke-width="1.2"/>
<line x1="227.59" y1="306.2" x2="227.59" y2="308.8" stroke="#4a4a4a" stroke-width="1.2"/>
<line x1="245.68" y1="306.2" x2="245.68" y2="310.7" stroke="#4a4a4a" stroke-width="1.2"/>
<line x1="263.77" y1="306.2" x2="263.77" y2="308.8" stroke="#4a4a4a" stroke-width="1.2"/>
<line x1="281.86" y1="306.2" x2="281.86" y2="310.7" stroke="#4a4a4a" stroke-width="1.2"/>
<line x1="299.95" y1="306.2" x2="299.95" y2="308.8" stroke="#4a4a4a" stroke-width="1.2"/>
<line x1="318.04" y1="306.2" x2="318.04" y2="310.7" stroke="#4a4a4a" stroke-width="1.2"/>
<text class="s" x="28.6" y="322.8" font-size="10.2" text-anchor="middle" fill="#1a1a1a" stroke="#1a1a1a" stroke-width="0.15">1200</text>
<text class="s" x="64.78" y="322.8" font-size="10.2" text-anchor="middle" fill="#1a1a1a" stroke="#1a1a1a" stroke-width="0.15">1400</text>
<text class="s" x="100.96" y="322.8" font-size="10.2" text-anchor="middle" fill="#1a1a1a" stroke="#1a1a1a" stroke-width="0.15">1600</text>
<text class="s" x="137.14" y="322.8" font-size="10.2" text-anchor="middle" fill="#1a1a1a" stroke="#1a1a1a" stroke-width="0.15">1800</text>
<text class="s" x="173.32" y="322.8" font-size="10.2" text-anchor="middle" fill="#1a1a1a" stroke="#1a1a1a" stroke-width="0.15">2000</text>
<text class="s" x="209.5" y="322.8" font-size="10.2" text-anchor="middle" fill="#1a1a1a" stroke="#1a1a1a" stroke-width="0.15">2200</text>
<text class="s" x="245.68" y="322.8" font-size="10.2" text-anchor="middle" fill="#1a1a1a" stroke="#1a1a1a" stroke-width="0.15">2400</text>
<text class="s" x="281.86" y="322.8" font-size="10.2" text-anchor="middle" fill="#1a1a1a" stroke="#1a1a1a" stroke-width="0.15">2600</text>
<text class="s" x="318.04" y="322.8" font-size="10.2" text-anchor="middle" fill="#1a1a1a" stroke="#1a1a1a" stroke-width="0.15">2800</text>
<line x1="29" y1="196" x2="31" y2="196" stroke="#4a4a4a" stroke-width="1"/>
<text class="s" x="127" y="343.9" font-size="12.2" fill="#1a1a1a" stroke="#1a1a1a" stroke-width="0.2">Raman shift (cm<tspan font-size="7.5" dy="-5">-1</tspan><tspan dy="5">)</tspan></text>
<text class="s" transform="translate(9.8,225) rotate(-90)" x="0" y="0" font-size="12.4" textLength="93.6" lengthAdjust="spacingAndGlyphs" fill="#1a1a1a" stroke="#1a1a1a" stroke-width="0.2">Intensity (arb.u.)</text>
<text class="s" x="101" y="158.5" font-size="11.3" fill="#1a1a1a" stroke="#1a1a1a" stroke-width="0.2">G</text>
<text class="s" x="303.2" y="82.5" font-size="12" fill="#1a1a1a" stroke="#1a1a1a" stroke-width="0.2">2D</text>
<line x1="165.1" y1="278.9" x2="193.2" y2="278.9" stroke="#404040" stroke-width="1.6"/>
<line x1="165.1" y1="294" x2="193.2" y2="294" stroke="#ff0000" stroke-width="1.1"/>
<text class="s" x="205" y="280.8" font-size="10" textLength="64.2" lengthAdjust="spacingAndGlyphs" fill="#262626">Graphene/Am</text>
<text class="s" x="205" y="293.7" font-size="10" textLength="42.5" lengthAdjust="spacingAndGlyphs" fill="#262626">Am alone</text>
<text class="s" x="349.9" y="17.2" font-size="20.5" textLength="12.7" lengthAdjust="spacingAndGlyphs" fill="#000" stroke="#000" stroke-width="0.45">C</text>
<line x1="403.5" y1="33.1" x2="681.5" y2="33.1" stroke="#dcdcdc" stroke-width="1.1"/>
<text class="s" x="394.3" y="36.8" font-size="10.5" text-anchor="end" fill="#595959" stroke="#595959" stroke-width="0.25">1,2</text>
<line x1="403.5" y1="92.4" x2="681.5" y2="92.4" stroke="#dcdcdc" stroke-width="1.1"/>
<text class="s" x="394.3" y="96.1" font-size="10.5" text-anchor="end" fill="#595959" stroke="#595959" stroke-width="0.25">1</text>
<line x1="403.5" y1="151.7" x2="681.5" y2="151.7" stroke="#dcdcdc" stroke-width="1.1"/>
<text class="s" x="394.3" y="155.4" font-size="10.5" text-anchor="end" fill="#595959" stroke="#595959" stroke-width="0.25">0,8</text>
<line x1="403.5" y1="211.5" x2="681.5" y2="211.5" stroke="#dcdcdc" stroke-width="1.1"/>
<text class="s" x="394.3" y="215.2" font-size="10.5" text-anchor="end" fill="#595959" stroke="#595959" stroke-width="0.25">0,6</text>
<line x1="403.5" y1="271.2" x2="681.5" y2="271.2" stroke="#dcdcdc" stroke-width="1.1"/>
<text class="s" x="394.3" y="274.9" font-size="10.5" text-anchor="end" fill="#595959" stroke="#595959" stroke-width="0.25">0,4</text>
<line x1="403.5" y1="331.0" x2="681.5" y2="331.0" stroke="#dcdcdc" stroke-width="1.1"/>
<text class="s" x="394.3" y="334.7" font-size="10.5" text-anchor="end" fill="#595959" stroke="#595959" stroke-width="0.25">0,2</text>
<line x1="403.5" y1="390.2" x2="681.5" y2="390.2" stroke="#dcdcdc" stroke-width="1.1"/>
<text class="s" x="394.3" y="393.9" font-size="10.5" text-anchor="end" fill="#595959" stroke="#595959" stroke-width="0.25">0</text>
<line x1="403.5" y1="33" x2="403.5" y2="390.2" stroke="#dcdcdc" stroke-width="1.1"/>
<text class="r" font-weight="bold" transform="translate(366,279.2) rotate(-90)" font-size="16" textLength="135" lengthAdjust="spacingAndGlyphs" fill="#000">Conductivity (S/m)</text>
<line x1="493.8" y1="63.9" x2="493.8" y2="66.2" stroke="#808080" stroke-width="1"/>
<line x1="487.4" y1="63.9" x2="500.2" y2="63.9" stroke="#808080" stroke-width="1.2"/>
<rect x="472.1" y="66.2" width="43.8" height="5.5" fill="#3a3a3a" stroke="#111" stroke-width="0.9"/>
<rect x="472.6" y="69.2" width="42.8" height="2" fill="#5e5e5e"/>
<line x1="472.5" y1="68.7" x2="515.5" y2="68.7" stroke="#111" stroke-width="0.8"/>
<path d="M490.8,65.6 L496.8,72.3 M496.8,65.6 L490.8,72.3" stroke="#111" stroke-width="1"/>
<circle cx="493.8" cy="79.7" r="2.3" fill="#5a5a5a" stroke="#222" stroke-width="0.7"/>
<path d="M492.3,45.2 L492.3,58.9 M486.6,58.9 L497,58.9 M492.3,45.4 L487.6,48.6" stroke="#000" stroke-width="1.7" fill="none"/>
<line x1="587.5" y1="201.5" x2="587.5" y2="216.9" stroke="#808080" stroke-width="1"/>
<line x1="581.7" y1="201.5" x2="593.9" y2="201.5" stroke="#808080" stroke-width="1.2"/>
<line x1="581.7" y1="216.9" x2="593.9" y2="216.9" stroke="#808080" stroke-width="1.2"/>
<rect x="566.1" y="206.2" width="43" height="6.2" fill="#808080" stroke="#777" stroke-width="0.8"/>
<line x1="566.5" y1="209.1" x2="608.7" y2="209.1" stroke="#9a9a9a" stroke-width="0.8"/>
<path d="M584.5,205 L590.5,213 M590.5,205 L584.5,213" stroke="#6a6a6a" stroke-width="1"/>
<circle cx="587.5" cy="205.8" r="2.3" fill="#808080"/>
<circle cx="587.5" cy="221.5" r="2.4" fill="#808080"/>
<text class="s" x="580.3" y="193.1" font-size="21.5" textLength="10.7" lengthAdjust="spacingAndGlyphs" fill="#000" stroke="#000" stroke-width="0.4">2</text>
<line x1="534.5" y1="281.4" x2="546.6" y2="281.4" stroke="#333" stroke-width="1.1"/>
<line x1="534.5" y1="291.3" x2="546.6" y2="291.3" stroke="#333" stroke-width="1.1"/>
<rect x="519.2" y="284.1" width="42.4" height="5.5" fill="#b4b4b4" stroke="#111" stroke-width="1"/>
<line x1="519.6" y1="286.6" x2="561.2" y2="286.6" stroke="#111" stroke-width="0.9"/>
<path d="M537.5,282 L543.5,290.5 M543.5,282 L537.5,290.5" stroke="#222" stroke-width="1"/>
<text class="s" x="532.8" y="274" font-size="21.5" textLength="11" lengthAdjust="spacingAndGlyphs" fill="#000" stroke="#000" stroke-width="0.4">3</text>
<line x1="546.3" y1="72" x2="546.3" y2="199" stroke="#555" stroke-width="1"/>
<path d="M546.3,66.4 L550.6,74.7 L542.1,74.7 Z" fill="#000"/>
<path d="M546.3,205.1 L550.6,197.1 L542.1,197.1 Z" fill="#000"/>
<line x1="628.5" y1="216" x2="628.5" y2="282" stroke="#555" stroke-width="1"/>
<path d="M628.5,209.7 L632.6,218 L624.4,218 Z" fill="#000"/>
<path d="M628.5,288.1 L632.6,280.3 L624.4,280.3 Z" fill="#000"/>
<text class="r" font-weight="bold" font-style="italic" x="557.4" y="128.5" font-size="14.3" textLength="47.6" lengthAdjust="spacingAndGlyphs" fill="#000">p &lt; 0,05</text>
<text class="r" font-weight="bold" font-style="italic" x="636.4" y="258.4" font-size="14.3" textLength="47.3" lengthAdjust="spacingAndGlyphs" fill="#000">p &lt; 0,05</text>
<text class="s" x="31.8" y="450.1" font-size="21.5" textLength="11.3" lengthAdjust="spacingAndGlyphs" fill="#000" stroke="#000" stroke-width="0.45">B</text>
<line x1="94.2" y1="679.5" x2="557.4" y2="679.5" stroke="#e6e6e6" stroke-width="1"/>
<line x1="94.2" y1="641.4" x2="557.4" y2="641.4" stroke="#e6e6e6" stroke-width="1"/>
<line x1="94.2" y1="603.3" x2="557.4" y2="603.3" stroke="#e6e6e6" stroke-width="1"/>
<line x1="94.2" y1="565.2" x2="557.4" y2="565.2" stroke="#e6e6e6" stroke-width="1"/>
<line x1="94.2" y1="527.1" x2="557.4" y2="527.1" stroke="#e6e6e6" stroke-width="1"/>
<line x1="94.2" y1="489" x2="557.4" y2="489" stroke="#e6e6e6" stroke-width="1"/>
<line x1="94.2" y1="450.9" x2="557.4" y2="450.9" stroke="#e6e6e6" stroke-width="1"/>
<line x1="94.2" y1="450.9" x2="94.2" y2="679.5" stroke="#e6e6e6" stroke-width="1"/>
<line x1="171.4" y1="450.9" x2="171.4" y2="679.5" stroke="#e6e6e6" stroke-width="1"/>
<line x1="248.6" y1="450.9" x2="248.6" y2="679.5" stroke="#e6e6e6" stroke-width="1"/>
<line x1="325.8" y1="450.9" x2="325.8" y2="679.5" stroke="#e6e6e6" stroke-width="1"/>
<line x1="403" y1="450.9" x2="403" y2="679.5" stroke="#e6e6e6" stroke-width="1"/>
<line x1="480.2" y1="450.9" x2="480.2" y2="679.5" stroke="#e6e6e6" stroke-width="1"/>
<line x1="557.4" y1="450.9" x2="557.4" y2="679.5" stroke="#e6e6e6" stroke-width="1"/>
<text class="s" x="82.1" y="647.5" font-size="11" text-anchor="end" fill="#262626" stroke="#262626" stroke-width="0.3">0,3</text>
<text class="s" x="81.7" y="608.65" font-size="11" text-anchor="end" fill="#262626" stroke="#262626" stroke-width="0.3">0,6</text>
<text class="s" x="81.7" y="568.6" font-size="11" text-anchor="end" fill="#262626" stroke="#262626" stroke-width="0.3">0,9</text>
<text class="s" x="83" y="531.3" font-size="11" text-anchor="end" fill="#262626" stroke="#262626" stroke-width="0.3">1,2</text>
<text class="s" x="84.1" y="492.5" font-size="11" text-anchor="end" fill="#262626" stroke="#262626" stroke-width="0.3">1,5</text>
<text class="s" x="164.9" y="693.3" font-size="11" text-anchor="middle" fill="#262626" stroke="#262626" stroke-width="0.3">0,1</text>
<text class="s" x="249.7" y="693.3" font-size="11" text-anchor="middle" fill="#262626" stroke="#262626" stroke-width="0.3">0,2</text>
<text class="s" x="327" y="693.3" font-size="11" text-anchor="middle" fill="#262626" stroke="#262626" stroke-width="0.3">0,3</text>
<text class="s" x="402.4" y="693.3" font-size="11" text-anchor="middle" fill="#262626" stroke="#262626" stroke-width="0.3">0,4</text>
<text class="s" x="477.2" y="693.3" font-size="11" text-anchor="middle" fill="#262626" stroke="#262626" stroke-width="0.3">0,5</text>
<path d="M108,461.5 L108,476 M102.4,476 L112,476 M108,461.7 L103.3,465" stroke="#000" stroke-width="1.7" fill="none"/>
<text class="r" x="243.7" y="514.3" font-size="13" textLength="81.4" lengthAdjust="spacingAndGlyphs" fill="#1a1a1a" stroke="#1a1a1a" stroke-width="0.2"><tspan font-style="italic">x&#772;</tspan> (E) 5,87 MPa</text>
<text class="r" transform="translate(59.3,603) rotate(-90)" font-size="14.5" textLength="79.5" lengthAdjust="spacingAndGlyphs" fill="#1a1a1a" stroke="#1a1a1a" stroke-width="0.25">Strain ( MPa)</text>
<text class="r" x="296.1" y="714.1" font-size="14.8" textLength="54" lengthAdjust="spacingAndGlyphs" fill="#1a1a1a" stroke="#1a1a1a" stroke-width="0.25">Stress (-)</text>
<path d="M93.3,677.19 L95.77,677.08 L98.25,676.96 L100.72,676.85 L103.19,676.73 L105.66,676.61 L108.14,676.48 L110.61,676.35 L113.08,676.22 L115.56,676.08 L118.03,675.94 L120.5,675.8 L122.98,675.65 L125.45,675.49 L127.92,675.34 L130.39,675.17 L132.87,675 L135.34,674.83 L137.81,674.64 L140.29,674.46 L142.76,674.26 L145.23,674.06 L147.71,673.85 L150.18,673.64 L152.65,673.41 L155.12,673.18 L157.6,672.94 L160.07,672.7 L162.54,672.44 L165.02,672.18 L167.49,671.91 L169.96,671.63 L172.43,671.34 L174.91,671.04 L177.38,670.73 L179.85,670.41 L182.33,670.08 L184.8,669.74 L187.27,669.39 L189.75,669.02 L192.22,668.65 L194.69,668.27 L197.16,667.87 L199.64,667.46 L202.11,667.05 L204.58,666.61 L207.06,666.17 L209.53,665.71 L212,665.24 L214.47,664.76 L216.95,664.26 L219.42,663.75 L221.89,663.23 L224.37,662.69 L226.84,662.14 L229.31,661.57 L231.79,660.99 L234.26,660.39 L236.73,659.78 L239.2,659.15 L241.68,658.51 L244.15,657.85 L246.62,657.17 L249.1,656.48 L251.57,655.77 L254.04,655.04 L256.52,654.3 L258.99,653.54 L261.46,652.76 L263.93,651.96 L266.41,651.15 L268.88,650.32 L271.35,649.47 L273.83,648.6 L276.3,647.71 L278.77,646.8 L281.24,645.87 L283.72,644.93 L286.19,643.96 L288.66,642.97 L291.14,641.96 L293.61,640.94 L296.08,639.89 L298.56,638.82 L301.03,637.72 L303.5,636.61 L305.97,635.48 L308.45,634.32 L310.92,633.14 L313.39,631.94 L315.87,630.72 L318.34,629.47 L320.81,628.2 L323.28,626.9 L325.76,625.59 L328.23,624.24 L330.7,622.88 L333.18,621.49 L335.65,620.08 L338.12,618.64 L340.6,617.17 L343.07,615.68 L345.54,614.17 L348.01,612.63 L350.49,611.06 L352.96,609.47 L355.43,607.85 L357.91,606.2 L360.38,604.53 L362.85,602.83 L365.33,601.1 L367.8,599.35 L370.27,597.57 L372.74,595.75 L375.22,593.92 L377.69,592.05 L380.16,590.15 L382.64,588.23 L385.11,586.27 L387.58,584.29 L390.05,582.27 L392.53,580.23 L395,578.16 L397.47,576.05 L399.95,573.92 L402.42,571.75 L404.89,569.56 L407.37,567.33 L409.84,565.07 L412.31,562.78 L414.78,560.46 L417.26,558.1 L419.73,555.71 L422.2,553.29 L424.68,550.84 L427.15,548.35 L429.62,545.83 L432.09,543.28 L434.57,540.69 L437.04,538.07 L439.51,535.42 L441.99,532.73 L444.46,530 L446.93,527.24 L449.41,524.44 L451.88,521.61 L454.35,518.75 L456.82,515.85 L459.3,512.91 L461.77,509.93 L464.24,506.92 L466.72,503.87 L469.19,500.79 L471.66,497.66 L474.14,494.5 L476.61,491.3 L479.08,488.07 L481.55,484.79 L484.03,481.48 L486.5,478.13" fill="none" stroke="#3a3a3a" stroke-width="1.25" stroke-dasharray="4,2.3,1.2,2.3"/>
<path d="M93.3,677.22 L95.9,677.29 L98.49,677.35 L101.09,677.39 L103.69,677.43 L106.28,677.45 L108.88,677.46 L111.48,677.45 L114.07,677.44 L116.67,677.41 L119.27,677.37 L121.87,677.32 L124.46,677.26 L127.06,677.18 L129.66,677.1 L132.25,677 L134.85,676.88 L137.45,676.76 L140.04,676.63 L142.64,676.48 L145.24,676.32 L147.83,676.15 L150.43,675.97 L153.03,675.77 L155.62,675.56 L158.22,675.34 L160.82,675.11 L163.42,674.87 L166.01,674.61 L168.61,674.34 L171.21,674.06 L173.8,673.77 L176.4,673.47 L179,673.15 L181.59,672.82 L184.19,672.48 L186.79,672.13 L189.38,671.76 L191.98,671.38 L194.58,670.99 L197.17,670.59 L199.77,670.18 L202.37,669.75 L204.96,669.31 L207.56,668.86 L210.16,668.4 L212.76,667.93 L215.35,667.44 L217.95,666.94 L220.55,666.43 L223.14,665.9 L225.74,665.37 L228.34,664.82 L230.93,664.26 L233.53,663.68 L236.13,663.1 L238.72,662.5 L241.32,661.89 L243.92,661.27 L246.51,660.63 L249.11,659.99 L251.71,659.33 L254.31,658.66 L256.9,657.97 L259.5,657.27 L262.1,656.57 L264.69,655.84 L267.29,655.11 L269.89,654.36 L272.48,653.61 L275.08,652.83 L277.68,652.05 L280.27,651.26 L282.87,650.45 L285.47,649.63 L288.06,648.79 L290.66,647.94 L293.26,647.08 L295.85,646.2 L298.45,645.3 L301.05,644.39 L303.65,643.46 L306.24,642.52 L308.84,641.55 L311.44,640.57 L314.03,639.57 L316.63,638.56 L319.23,637.52 L321.82,636.46 L324.42,635.38 L327.02,634.29 L329.61,633.17 L332.21,632.03 L334.81,630.86 L337.4,629.68 L340,628.47 L342.6,627.23 L345.19,625.98 L347.79,624.7 L350.39,623.39 L352.99,622.06 L355.58,620.7 L358.18,619.31 L360.78,617.9 L363.37,616.46 L365.97,615 L368.57,613.5 L371.16,611.98 L373.76,610.43 L376.36,608.84 L378.95,607.23 L381.55,605.59 L384.15,603.91 L386.74,602.21 L389.34,600.47 L391.94,598.7 L394.54,596.89 L397.13,595.06 L399.73,593.18 L402.33,591.27 L404.92,589.33 L407.52,587.35 L410.12,585.33 L412.71,583.27 L415.31,581.18 L417.91,579.04 L420.5,576.87 L423.1,574.65 L425.7,572.39 L428.29,570.1 L430.89,567.75 L433.49,565.37 L436.08,562.94 L438.68,560.46 L441.28,557.94 L443.88,555.37 L446.47,552.76 L449.07,550.1 L451.67,547.39 L454.26,544.63 L456.86,541.82 L459.46,538.96 L462.05,536.05 L464.65,533.09 L467.25,530.07 L469.84,527 L472.44,523.88 L475.04,520.71 L477.63,517.48 L480.23,514.19 L482.83,510.84 L485.43,507.44 L488.02,503.98 L490.62,500.47 L493.22,496.89 L495.81,493.25 L498.41,489.56 L501.01,485.8 L503.6,481.98 L506.2,478.09" fill="none" stroke="#3a3a3a" stroke-width="1.25" stroke-dasharray="4,2.3,1.2,2.3"/>
<path d="M93.3,677.16 L96.02,677.17 L98.73,677.17 L101.45,677.18 L104.17,677.18 L106.88,677.18 L109.6,677.18 L112.31,677.18 L115.03,677.18 L117.75,677.18 L120.46,677.17 L123.18,677.16 L125.9,677.15 L128.61,677.13 L131.33,677.11 L134.05,677.08 L136.76,677.05 L139.48,677.01 L142.19,676.97 L144.91,676.93 L147.63,676.87 L150.34,676.81 L153.06,676.75 L155.78,676.67 L158.49,676.59 L161.21,676.5 L163.93,676.41 L166.64,676.3 L169.36,676.19 L172.07,676.06 L174.79,675.93 L177.51,675.79 L180.22,675.64 L182.94,675.47 L185.66,675.3 L188.37,675.11 L191.09,674.92 L193.81,674.71 L196.52,674.49 L199.24,674.26 L201.95,674.01 L204.67,673.75 L207.39,673.48 L210.1,673.19 L212.82,672.89 L215.54,672.57 L218.25,672.24 L220.97,671.9 L223.68,671.54 L226.4,671.16 L229.12,670.77 L231.83,670.36 L234.55,669.93 L237.27,669.49 L239.98,669.02 L242.7,668.54 L245.42,668.05 L248.13,667.53 L250.85,666.99 L253.56,666.44 L256.28,665.86 L259,665.27 L261.71,664.65 L264.43,664.02 L267.15,663.36 L269.86,662.68 L272.58,661.98 L275.3,661.26 L278.01,660.52 L280.73,659.75 L283.44,658.96 L286.16,658.15 L288.88,657.31 L291.59,656.45 L294.31,655.57 L297.03,654.66 L299.74,653.72 L302.46,652.76 L305.18,651.78 L307.89,650.76 L310.61,649.73 L313.32,648.66 L316.04,647.57 L318.76,646.45 L321.47,645.3 L324.19,644.12 L326.91,642.92 L329.62,641.69 L332.34,640.43 L335.06,639.13 L337.77,637.81 L340.49,636.46 L343.2,635.08 L345.92,633.67 L348.64,632.22 L351.35,630.75 L354.07,629.24 L356.79,627.7 L359.5,626.13 L362.22,624.52 L364.94,622.88 L367.65,621.21 L370.37,619.51 L373.08,617.77 L375.8,615.99 L378.52,614.18 L381.23,612.34 L383.95,610.46 L386.67,608.55 L389.38,606.59 L392.1,604.6 L394.82,602.58 L397.53,600.52 L400.25,598.43 L402.96,596.31 L405.68,594.15 L408.4,591.96 L411.11,589.74 L413.83,587.49 L416.55,585.22 L419.26,582.91 L421.98,580.58 L424.69,578.22 L427.41,575.83 L430.13,573.42 L432.84,570.99 L435.56,568.53 L438.28,566.05 L440.99,563.55 L443.71,561.02 L446.43,558.48 L449.14,555.92 L451.86,553.34 L454.57,550.74 L457.29,548.12 L460.01,545.49 L462.72,542.84 L465.44,540.18 L468.16,537.51 L470.87,534.82 L473.59,532.12 L476.31,529.4 L479.02,526.68 L481.74,523.95 L484.45,521.21 L487.17,518.46 L489.89,515.7 L492.6,512.94 L495.32,510.17 L498.04,507.39 L500.75,504.62 L503.47,501.83 L506.19,499.05 L508.9,496.26 L511.62,493.48 L514.33,490.69 L517.05,487.9 L519.77,485.12 L522.48,482.34 L525.2,479.56" fill="none" stroke="#3a3a3a" stroke-width="1.25" stroke-dasharray="4,2.3,1.2,2.3"/>
<path d="M93.3,677.21 L96.04,677.04 L98.79,676.89 L101.53,676.74 L104.28,676.61 L107.02,676.48 L109.76,676.37 L112.51,676.26 L115.25,676.16 L118,676.07 L120.74,675.98 L123.48,675.9 L126.23,675.83 L128.97,675.77 L131.72,675.71 L134.46,675.65 L137.2,675.6 L139.95,675.56 L142.69,675.52 L145.44,675.49 L148.18,675.46 L150.92,675.43 L153.67,675.41 L156.41,675.39 L159.16,675.37 L161.9,675.35 L164.64,675.33 L167.39,675.32 L170.13,675.31 L172.88,675.3 L175.62,675.28 L178.36,675.27 L181.11,675.26 L183.85,675.25 L186.6,675.23 L189.34,675.22 L192.08,675.2 L194.83,675.18 L197.57,675.16 L200.32,675.13 L203.06,675.11 L205.81,675.07 L208.55,675.04 L211.29,675 L214.04,674.95 L216.78,674.9 L219.53,674.85 L222.27,674.79 L225.01,674.72 L227.76,674.65 L230.5,674.57 L233.25,674.48 L235.99,674.39 L238.73,674.28 L241.48,674.17 L244.22,674.05 L246.97,673.92 L249.71,673.79 L252.45,673.64 L255.2,673.48 L257.94,673.32 L260.69,673.14 L263.43,672.95 L266.17,672.75 L268.92,672.54 L271.66,672.31 L274.41,672.07 L277.15,671.82 L279.89,671.56 L282.64,671.29 L285.38,671 L288.13,670.69 L290.87,670.37 L293.61,670.04 L296.36,669.69 L299.1,669.32 L301.85,668.94 L304.59,668.55 L307.33,668.13 L310.08,667.7 L312.82,667.25 L315.57,666.79 L318.31,666.3 L321.05,665.8 L323.8,665.28 L326.54,664.74 L329.29,664.17 L332.03,663.59 L334.77,662.97 L337.52,662.3 L340.26,661.6 L343.01,660.84 L345.75,660.02 L348.49,659.13 L351.24,658.17 L353.98,657.13 L356.73,656.01 L359.47,654.79 L362.21,653.47 L364.96,652.05 L367.7,650.51 L370.45,648.86 L373.19,647.11 L375.93,645.27 L378.68,643.34 L381.42,641.34 L384.17,639.28 L386.91,637.16 L389.65,634.99 L392.4,632.79 L395.14,630.57 L397.89,628.33 L400.63,626.07 L403.37,623.8 L406.12,621.52 L408.86,619.23 L411.61,616.92 L414.35,614.6 L417.09,612.26 L419.84,609.92 L422.58,607.56 L425.33,605.19 L428.07,602.82 L430.82,600.43 L433.56,598.02 L436.3,595.61 L439.05,593.19 L441.79,590.76 L444.54,588.32 L447.28,585.86 L450.02,583.39 L452.77,580.91 L455.51,578.39 L458.26,575.84 L461,573.25 L463.74,570.61 L466.49,567.93 L469.23,565.18 L471.98,562.38 L474.72,559.5 L477.46,556.55 L480.21,553.52 L482.95,550.4 L485.7,547.18 L488.44,543.87 L491.18,540.45 L493.93,536.93 L496.67,533.29 L499.42,529.53 L502.16,525.66 L504.9,521.66 L507.65,517.54 L510.39,513.28 L513.14,508.9 L515.88,504.37 L518.62,499.7 L521.37,494.89 L524.11,489.93 L526.86,484.82 L529.6,479.55" fill="none" stroke="#3a3a3a" stroke-width="1.25" stroke-dasharray="4,2.3,1.2,2.3"/>
<path d="M93.3,677.2 L96.07,677.2 L98.85,677.19 L101.62,677.18 L104.4,677.16 L107.17,677.14 L109.95,677.12 L112.72,677.09 L115.49,677.05 L118.27,677.02 L121.04,676.98 L123.82,676.93 L126.59,676.88 L129.36,676.83 L132.14,676.77 L134.91,676.71 L137.69,676.64 L140.46,676.57 L143.24,676.5 L146.01,676.42 L148.78,676.34 L151.56,676.26 L154.33,676.17 L157.11,676.07 L159.88,675.97 L162.66,675.87 L165.43,675.77 L168.2,675.66 L170.98,675.54 L173.75,675.42 L176.53,675.3 L179.3,675.18 L182.07,675.05 L184.85,674.91 L187.62,674.78 L190.4,674.63 L193.17,674.49 L195.95,674.34 L198.72,674.19 L201.49,674.03 L204.27,673.87 L207.04,673.7 L209.82,673.54 L212.59,673.36 L215.37,673.19 L218.14,673.01 L220.91,672.82 L223.69,672.64 L226.46,672.44 L229.24,672.25 L232.01,672.05 L234.78,671.85 L237.56,671.64 L240.33,671.43 L243.11,671.22 L245.88,671 L248.66,670.78 L251.43,670.55 L254.2,670.33 L256.98,670.09 L259.75,669.86 L262.53,669.62 L265.3,669.38 L268.08,669.13 L270.85,668.88 L273.62,668.62 L276.4,668.37 L279.17,668.11 L281.95,667.84 L284.72,667.57 L287.49,667.3 L290.27,667.02 L293.04,666.75 L295.82,666.46 L298.59,666.18 L301.37,665.89 L304.14,665.59 L306.91,665.3 L309.69,664.99 L312.46,664.69 L315.24,664.38 L318.01,664.06 L320.79,663.73 L323.56,663.4 L326.33,663.05 L329.11,662.7 L331.88,662.34 L334.66,661.97 L337.43,661.59 L340.21,661.19 L342.98,660.78 L345.75,660.37 L348.53,659.93 L351.3,659.49 L354.08,659.02 L356.85,658.55 L359.62,658.05 L362.4,657.54 L365.17,657.02 L367.95,656.47 L370.72,655.91 L373.5,655.32 L376.27,654.72 L379.04,654.1 L381.82,653.45 L384.59,652.78 L387.37,652.09 L390.14,651.38 L392.92,650.64 L395.69,649.88 L398.46,649.1 L401.24,648.29 L404.01,647.45 L406.79,646.58 L409.56,645.68 L412.33,644.74 L415.11,643.75 L417.88,642.71 L420.66,641.62 L423.43,640.46 L426.21,639.23 L428.98,637.93 L431.75,636.55 L434.53,635.08 L437.3,633.53 L440.08,631.87 L442.85,630.11 L445.63,628.25 L448.4,626.27 L451.17,624.17 L453.95,621.95 L456.72,619.59 L459.5,617.1 L462.27,614.47 L465.04,611.69 L467.82,608.75 L470.59,605.67 L473.37,602.43 L476.14,599.05 L478.92,595.53 L481.69,591.88 L484.46,588.1 L487.24,584.2 L490.01,580.18 L492.79,576.05 L495.56,571.81 L498.34,567.46 L501.11,562.91 L503.88,558.06 L506.66,552.8 L509.43,547.04 L512.21,540.69 L514.98,533.93 L517.75,527.02 L520.53,520.08 L523.3,513.22 L526.08,506.37 L528.85,499.35 L531.63,491.96 L534.4,484" fill="none" stroke="#3a3a3a" stroke-width="1.25" stroke-dasharray="4,2.3,1.2,2.3"/>
<line x1="97.7" y1="961" x2="559.6" y2="961" stroke="#e6e6e6" stroke-width="1"/>
<line x1="97.7" y1="923.27" x2="559.6" y2="923.27" stroke="#e6e6e6" stroke-width="1"/>
<line x1="97.7" y1="885.54" x2="559.6" y2="885.54" stroke="#e6e6e6" stroke-width="1"/>
<line x1="97.7" y1="847.81" x2="559.6" y2="847.81" stroke="#e6e6e6" stroke-width="1"/>
<line x1="97.7" y1="810.08" x2="559.6" y2="810.08" stroke="#e6e6e6" stroke-width="1"/>
<line x1="97.7" y1="772.35" x2="559.6" y2="772.35" stroke="#e6e6e6" stroke-width="1"/>
<line x1="97.7" y1="734.62" x2="559.6" y2="734.62" stroke="#e6e6e6" stroke-width="1"/>
<line x1="97.7" y1="734.6" x2="97.7" y2="961" stroke="#e6e6e6" stroke-width="1"/>
<line x1="174.7" y1="734.6" x2="174.7" y2="961" stroke="#e6e6e6" stroke-width="1"/>
<line x1="251.7" y1="734.6" x2="251.7" y2="961" stroke="#e6e6e6" stroke-width="1"/>
<line x1="328.7" y1="734.6" x2="328.7" y2="961" stroke="#e6e6e6" stroke-width="1"/>
<line x1="405.7" y1="734.6" x2="405.7" y2="961" stroke="#e6e6e6" stroke-width="1"/>
<line x1="482.7" y1="734.6" x2="482.7" y2="961" stroke="#e6e6e6" stroke-width="1"/>
<line x1="559.7" y1="734.6" x2="559.7" y2="961" stroke="#e6e6e6" stroke-width="1"/>
<text class="s" x="85.1" y="929.37" font-size="11" text-anchor="end" fill="#262626" stroke="#262626" stroke-width="0.3">0,3</text>
<text class="s" x="84.7" y="890.89" font-size="11" text-anchor="end" fill="#262626" stroke="#262626" stroke-width="0.3">0,6</text>
<text class="s" x="84.7" y="851.21" font-size="11" text-anchor="end" fill="#262626" stroke="#262626" stroke-width="0.3">0,9</text>
<text class="s" x="86" y="814.28" font-size="11" text-anchor="end" fill="#262626" stroke="#262626" stroke-width="0.3">1,2</text>
<text class="s" x="87.1" y="775.85" font-size="11" text-anchor="end" fill="#262626" stroke="#262626" stroke-width="0.3">1,5</text>
<text class="s" x="168.2" y="975.4" font-size="11" text-anchor="middle" fill="#262626" stroke="#262626" stroke-width="0.3">0,1</text>
<text class="s" x="252.8" y="975.4" font-size="11" text-anchor="middle" fill="#262626" stroke="#262626" stroke-width="0.3">0,2</text>
<text class="s" x="329.9" y="975.4" font-size="11" text-anchor="middle" fill="#262626" stroke="#262626" stroke-width="0.3">0,3</text>
<text class="s" x="405.1" y="975.4" font-size="11" text-anchor="middle" fill="#262626" stroke="#262626" stroke-width="0.3">0,4</text>
<text class="s" x="479.7" y="975.4" font-size="11" text-anchor="middle" fill="#262626" stroke="#262626" stroke-width="0.3">0,5</text>
<text class="s" x="101.5" y="762.4" font-size="22.5" textLength="10.2" lengthAdjust="spacingAndGlyphs" fill="#000" stroke="#000" stroke-width="0.4">2</text>
<text class="r" x="248.4" y="797.5" font-size="13" textLength="81.1" lengthAdjust="spacingAndGlyphs" fill="#1a1a1a" stroke="#1a1a1a" stroke-width="0.2"><tspan font-style="italic">x&#772;</tspan> (E) <tspan font-style="italic">5</tspan>,48 MPa</text>
<text class="r" transform="translate(61.0,885) rotate(-90)" font-size="14.5" textLength="79.5" lengthAdjust="spacingAndGlyphs" fill="#1a1a1a" stroke="#1a1a1a" stroke-width="0.25">Strain ( MPa)</text>
<text class="r" x="303.7" y="991.7" font-size="14.8" textLength="54" lengthAdjust="spacingAndGlyphs" fill="#1a1a1a" stroke="#1a1a1a" stroke-width="0.25">Stress (-)</text>
<path d="M97.2,958.85 L99.66,958.82 L102.13,958.77 L104.59,958.72 L107.06,958.67 L109.52,958.6 L111.99,958.53 L114.45,958.46 L116.92,958.37 L119.38,958.28 L121.85,958.18 L124.31,958.07 L126.78,957.96 L129.24,957.83 L131.71,957.7 L134.17,957.56 L136.64,957.41 L139.1,957.25 L141.57,957.08 L144.03,956.9 L146.5,956.71 L148.96,956.51 L151.43,956.31 L153.89,956.09 L156.35,955.86 L158.82,955.62 L161.28,955.37 L163.75,955.11 L166.21,954.84 L168.68,954.56 L171.14,954.27 L173.61,953.96 L176.07,953.65 L178.54,953.32 L181,952.98 L183.47,952.63 L185.93,952.26 L188.4,951.89 L190.86,951.5 L193.33,951.1 L195.79,950.68 L198.26,950.25 L200.72,949.81 L203.19,949.36 L205.65,948.89 L208.12,948.4 L210.58,947.91 L213.04,947.39 L215.51,946.87 L217.97,946.33 L220.44,945.77 L222.9,945.2 L225.37,944.62 L227.83,944.02 L230.3,943.4 L232.76,942.77 L235.23,942.12 L237.69,941.46 L240.16,940.78 L242.62,940.08 L245.09,939.37 L247.55,938.64 L250.02,937.89 L252.48,937.13 L254.95,936.35 L257.41,935.55 L259.88,934.74 L262.34,933.91 L264.81,933.05 L267.27,932.19 L269.73,931.3 L272.2,930.39 L274.66,929.47 L277.13,928.53 L279.59,927.56 L282.06,926.58 L284.52,925.58 L286.99,924.56 L289.45,923.52 L291.92,922.46 L294.38,921.38 L296.85,920.28 L299.31,919.16 L301.78,918.02 L304.24,916.86 L306.71,915.68 L309.17,914.48 L311.64,913.25 L314.1,912.01 L316.57,910.74 L319.03,909.45 L321.49,908.14 L323.96,906.81 L326.42,905.45 L328.89,904.07 L331.35,902.67 L333.82,901.25 L336.28,899.8 L338.75,898.34 L341.21,896.84 L343.68,895.33 L346.14,893.79 L348.61,892.22 L351.07,890.64 L353.54,889.02 L356,887.39 L358.47,885.73 L360.93,884.04 L363.4,882.33 L365.86,880.6 L368.33,878.84 L370.79,877.05 L373.26,875.24 L375.72,873.4 L378.18,871.54 L380.65,869.65 L383.11,867.73 L385.58,865.79 L388.04,863.82 L390.51,861.83 L392.97,859.81 L395.44,857.76 L397.9,855.69 L400.37,853.59 L402.83,851.46 L405.3,849.31 L407.76,847.13 L410.23,844.93 L412.69,842.7 L415.16,840.44 L417.62,838.16 L420.09,835.85 L422.55,833.52 L425.02,831.16 L427.48,828.78 L429.95,826.36 L432.41,823.93 L434.87,821.46 L437.34,818.97 L439.8,816.46 L442.27,813.92 L444.73,811.35 L447.2,808.76 L449.66,806.14 L452.13,803.5 L454.59,800.83 L457.06,798.14 L459.52,795.42 L461.99,792.67 L464.45,789.9 L466.92,787.11 L469.38,784.28 L471.85,781.44 L474.31,778.56 L476.78,775.67 L479.24,772.74 L481.71,769.8 L484.17,766.82 L486.64,763.82 L489.1,760.8" fill="none" stroke="#3a3a3a" stroke-width="1.25" stroke-dasharray="4,2.3,1.2,2.3"/>
<path d="M97.2,958.9 L99.81,958.72 L102.42,958.54 L105.03,958.37 L107.64,958.21 L110.25,958.06 L112.86,957.92 L115.47,957.78 L118.08,957.66 L120.69,957.53 L123.3,957.42 L125.91,957.3 L128.52,957.2 L131.13,957.09 L133.74,956.99 L136.35,956.89 L138.96,956.79 L141.57,956.7 L144.18,956.6 L146.79,956.5 L149.4,956.41 L152.01,956.31 L154.62,956.21 L157.23,956.1 L159.84,956 L162.45,955.89 L165.06,955.77 L167.67,955.65 L170.28,955.53 L172.89,955.39 L175.5,955.26 L178.11,955.11 L180.72,954.95 L183.33,954.79 L185.94,954.62 L188.55,954.43 L191.16,954.24 L193.77,954.04 L196.38,953.82 L198.99,953.59 L201.6,953.35 L204.21,953.09 L206.82,952.82 L209.43,952.54 L212.04,952.23 L214.65,951.92 L217.26,951.58 L219.87,951.23 L222.48,950.86 L225.09,950.47 L227.7,950.06 L230.31,949.64 L232.92,949.19 L235.53,948.72 L238.14,948.23 L240.75,947.71 L243.36,947.18 L245.97,946.62 L248.58,946.03 L251.19,945.42 L253.8,944.79 L256.41,944.13 L259.02,943.44 L261.63,942.73 L264.24,942 L266.85,941.24 L269.46,940.46 L272.07,939.66 L274.68,938.83 L277.29,937.98 L279.9,937.11 L282.51,936.21 L285.12,935.3 L287.73,934.36 L290.34,933.4 L292.95,932.42 L295.56,931.42 L298.17,930.4 L300.78,929.36 L303.39,928.3 L306.01,927.23 L308.62,926.13 L311.23,925.02 L313.84,923.88 L316.45,922.73 L319.06,921.57 L321.67,920.38 L324.28,919.18 L326.89,917.97 L329.5,916.73 L332.11,915.48 L334.72,914.22 L337.33,912.94 L339.94,911.65 L342.55,910.34 L345.16,909.02 L347.77,907.68 L350.38,906.33 L352.99,904.97 L355.6,903.6 L358.21,902.21 L360.82,900.81 L363.43,899.4 L366.04,897.98 L368.65,896.55 L371.26,895.11 L373.87,893.65 L376.48,892.19 L379.09,890.72 L381.7,889.24 L384.31,887.74 L386.92,886.24 L389.53,884.73 L392.14,883.2 L394.75,881.65 L397.36,880.09 L399.97,878.5 L402.58,876.9 L405.19,875.26 L407.8,873.61 L410.41,871.92 L413.02,870.2 L415.63,868.45 L418.24,866.67 L420.85,864.85 L423.46,862.99 L426.07,861.09 L428.68,859.15 L431.29,857.16 L433.9,855.13 L436.51,853.04 L439.12,850.91 L441.73,848.73 L444.34,846.49 L446.95,844.19 L449.56,841.84 L452.17,839.43 L454.78,836.95 L457.39,834.41 L460,831.8 L462.61,829.13 L465.22,826.38 L467.83,823.56 L470.44,820.67 L473.05,817.7 L475.66,814.65 L478.27,811.52 L480.88,808.31 L483.49,805.02 L486.1,801.64 L488.71,798.17 L491.32,794.61 L493.93,790.96 L496.54,787.22 L499.15,783.37 L501.76,779.43 L504.37,775.39 L506.98,771.25 L509.59,767.01 L512.2,762.65" fill="none" stroke="#3a3a3a" stroke-width="1.25" stroke-dasharray="4,2.3,1.2,2.3"/>
<path d="M97.2,958.86 L99.91,958.93 L102.61,958.99 L105.32,959.05 L108.03,959.11 L110.73,959.16 L113.44,959.2 L116.15,959.24 L118.86,959.27 L121.56,959.3 L124.27,959.32 L126.98,959.33 L129.68,959.34 L132.39,959.34 L135.1,959.34 L137.8,959.32 L140.51,959.3 L143.22,959.27 L145.92,959.24 L148.63,959.19 L151.34,959.14 L154.05,959.08 L156.75,959.01 L159.46,958.93 L162.17,958.84 L164.87,958.74 L167.58,958.63 L170.29,958.51 L172.99,958.38 L175.7,958.24 L178.41,958.08 L181.11,957.92 L183.82,957.75 L186.53,957.56 L189.24,957.36 L191.94,957.15 L194.65,956.93 L197.36,956.69 L200.06,956.44 L202.77,956.18 L205.48,955.91 L208.18,955.62 L210.89,955.32 L213.6,955 L216.3,954.67 L219.01,954.32 L221.72,953.96 L224.43,953.59 L227.13,953.2 L229.84,952.79 L232.55,952.37 L235.25,951.93 L237.96,951.48 L240.67,951.01 L243.37,950.52 L246.08,950.01 L248.79,949.49 L251.49,948.95 L254.2,948.39 L256.91,947.82 L259.62,947.23 L262.32,946.61 L265.03,945.98 L267.74,945.33 L270.44,944.66 L273.15,943.98 L275.86,943.27 L278.56,942.54 L281.27,941.79 L283.98,941.02 L286.68,940.23 L289.39,939.42 L292.1,938.59 L294.81,937.74 L297.51,936.87 L300.22,935.97 L302.93,935.05 L305.63,934.11 L308.34,933.15 L311.05,932.16 L313.75,931.15 L316.46,930.12 L319.17,929.06 L321.87,927.98 L324.58,926.88 L327.29,925.75 L329.99,924.6 L332.7,923.42 L335.41,922.22 L338.12,920.99 L340.82,919.73 L343.53,918.45 L346.24,917.15 L348.94,915.82 L351.65,914.46 L354.36,913.07 L357.06,911.66 L359.77,910.22 L362.48,908.76 L365.18,907.26 L367.89,905.74 L370.6,904.19 L373.31,902.61 L376.01,901 L378.72,899.36 L381.43,897.7 L384.13,896 L386.84,894.28 L389.55,892.52 L392.25,890.74 L394.96,888.92 L397.67,887.08 L400.37,885.2 L403.08,883.29 L405.79,881.35 L408.5,879.38 L411.2,877.38 L413.91,875.35 L416.62,873.28 L419.32,871.19 L422.03,869.07 L424.74,866.91 L427.44,864.73 L430.15,862.52 L432.86,860.27 L435.56,858 L438.27,855.71 L440.98,853.38 L443.69,851.02 L446.39,848.64 L449.1,846.23 L451.81,843.8 L454.51,841.33 L457.22,838.84 L459.93,836.33 L462.63,833.79 L465.34,831.22 L468.05,828.63 L470.75,826.01 L473.46,823.37 L476.17,820.7 L478.88,818.01 L481.58,815.3 L484.29,812.56 L487,809.8 L489.7,807.01 L492.41,804.21 L495.12,801.38 L497.82,798.52 L500.53,795.65 L503.24,792.76 L505.94,789.84 L508.65,786.9 L511.36,783.95 L514.07,780.97 L516.77,777.97 L519.48,774.95 L522.19,771.91 L524.89,768.86 L527.6,765.78" fill="none" stroke="#3a3a3a" stroke-width="1.25" stroke-dasharray="4,2.3,1.2,2.3"/>
<path d="M97.2,958.95 L99.98,958.88 L102.76,958.8 L105.54,958.73 L108.31,958.66 L111.09,958.59 L113.87,958.52 L116.65,958.46 L119.43,958.39 L122.21,958.32 L124.99,958.26 L127.76,958.19 L130.54,958.12 L133.32,958.06 L136.1,957.99 L138.88,957.92 L141.66,957.85 L144.44,957.77 L147.22,957.69 L149.99,957.62 L152.77,957.53 L155.55,957.45 L158.33,957.36 L161.11,957.27 L163.89,957.17 L166.67,957.07 L169.44,956.96 L172.22,956.85 L175,956.73 L177.78,956.61 L180.56,956.48 L183.34,956.34 L186.12,956.2 L188.89,956.05 L191.67,955.9 L194.45,955.73 L197.23,955.56 L200.01,955.38 L202.79,955.19 L205.57,955 L208.34,954.79 L211.12,954.58 L213.9,954.35 L216.68,954.12 L219.46,953.87 L222.24,953.62 L225.02,953.35 L227.79,953.08 L230.57,952.79 L233.35,952.49 L236.13,952.18 L238.91,951.85 L241.69,951.51 L244.47,951.16 L247.25,950.8 L250.02,950.42 L252.8,950.03 L255.58,949.63 L258.36,949.21 L261.14,948.77 L263.92,948.33 L266.7,947.86 L269.47,947.38 L272.25,946.89 L275.03,946.37 L277.81,945.84 L280.59,945.3 L283.37,944.74 L286.15,944.16 L288.92,943.56 L291.7,942.94 L294.48,942.31 L297.26,941.65 L300.04,940.98 L302.82,940.29 L305.6,939.58 L308.37,938.85 L311.15,938.1 L313.93,937.33 L316.71,936.54 L319.49,935.72 L322.27,934.89 L325.05,934.03 L327.83,933.16 L330.6,932.26 L333.38,931.33 L336.16,930.39 L338.94,929.42 L341.72,928.43 L344.5,927.41 L347.28,926.37 L350.05,925.31 L352.83,924.22 L355.61,923.1 L358.39,921.96 L361.17,920.8 L363.95,919.61 L366.73,918.39 L369.5,917.15 L372.28,915.88 L375.06,914.58 L377.84,913.26 L380.62,911.91 L383.4,910.53 L386.18,909.12 L388.95,907.68 L391.73,906.21 L394.51,904.72 L397.29,903.19 L400.07,901.64 L402.85,900.06 L405.63,898.44 L408.41,896.8 L411.18,895.12 L413.96,893.41 L416.74,891.67 L419.52,889.89 L422.3,888.08 L425.08,886.23 L427.86,884.35 L430.63,882.43 L433.41,880.47 L436.19,878.48 L438.97,876.44 L441.75,874.36 L444.53,872.25 L447.31,870.09 L450.08,867.88 L452.86,865.64 L455.64,863.35 L458.42,861.01 L461.2,858.63 L463.98,856.2 L466.76,853.73 L469.53,851.21 L472.31,848.63 L475.09,846.01 L477.87,843.34 L480.65,840.61 L483.43,837.84 L486.21,835.01 L488.98,832.12 L491.76,829.18 L494.54,826.19 L497.32,823.14 L500.1,820.03 L502.88,816.86 L505.66,813.64 L508.44,810.36 L511.21,807.01 L513.99,803.61 L516.77,800.14 L519.55,796.61 L522.33,793.02 L525.11,789.36 L527.89,785.64 L530.66,781.85 L533.44,777.99 L536.22,774.07 L539,770.08" fill="none" stroke="#3a3a3a" stroke-width="1.25" stroke-dasharray="4,2.3,1.2,2.3"/>
<path d="M97.2,958.95 L100.02,958.97 L102.85,958.98 L105.67,959 L108.49,959 L111.31,959 L114.14,959 L116.96,959 L119.78,958.99 L122.6,958.97 L125.43,958.95 L128.25,958.93 L131.07,958.9 L133.89,958.87 L136.72,958.83 L139.54,958.79 L142.36,958.74 L145.18,958.69 L148.01,958.64 L150.83,958.57 L153.65,958.51 L156.48,958.44 L159.3,958.36 L162.12,958.28 L164.94,958.2 L167.77,958.11 L170.59,958.01 L173.41,957.91 L176.23,957.81 L179.06,957.7 L181.88,957.58 L184.7,957.46 L187.52,957.34 L190.35,957.2 L193.17,957.07 L195.99,956.92 L198.82,956.78 L201.64,956.62 L204.46,956.46 L207.28,956.3 L210.11,956.13 L212.93,955.95 L215.75,955.77 L218.57,955.58 L221.4,955.39 L224.22,955.19 L227.04,954.98 L229.86,954.77 L232.69,954.55 L235.51,954.33 L238.33,954.1 L241.15,953.86 L243.98,953.62 L246.8,953.37 L249.62,953.11 L252.45,952.85 L255.27,952.58 L258.09,952.31 L260.91,952.03 L263.74,951.74 L266.56,951.45 L269.38,951.15 L272.2,950.84 L275.03,950.53 L277.85,950.21 L280.67,949.88 L283.49,949.54 L286.32,949.2 L289.14,948.86 L291.96,948.5 L294.78,948.14 L297.61,947.76 L300.43,947.38 L303.25,946.99 L306.08,946.58 L308.9,946.16 L311.72,945.73 L314.54,945.29 L317.37,944.82 L320.19,944.35 L323.01,943.85 L325.83,943.34 L328.66,942.8 L331.48,942.25 L334.3,941.68 L337.12,941.08 L339.95,940.46 L342.77,939.82 L345.59,939.16 L348.42,938.46 L351.24,937.74 L354.06,937 L356.88,936.22 L359.71,935.42 L362.53,934.59 L365.35,933.72 L368.17,932.83 L371,931.9 L373.82,930.94 L376.64,929.94 L379.46,928.9 L382.29,927.84 L385.11,926.73 L387.93,925.58 L390.75,924.4 L393.58,923.17 L396.4,921.91 L399.22,920.6 L402.05,919.25 L404.87,917.86 L407.69,916.42 L410.51,914.94 L413.34,913.4 L416.16,911.83 L418.98,910.2 L421.8,908.53 L424.63,906.8 L427.45,905.02 L430.27,903.19 L433.09,901.31 L435.92,899.38 L438.74,897.38 L441.56,895.34 L444.38,893.23 L447.21,891.06 L450.03,888.83 L452.85,886.54 L455.68,884.19 L458.5,881.77 L461.32,879.28 L464.14,876.73 L466.97,874.1 L469.79,871.41 L472.61,868.64 L475.43,865.8 L478.26,862.88 L481.08,859.89 L483.9,856.82 L486.72,853.67 L489.55,850.44 L492.37,847.13 L495.19,843.73 L498.02,840.25 L500.84,836.68 L503.66,833.03 L506.48,829.28 L509.31,825.45 L512.13,821.52 L514.95,817.5 L517.77,813.39 L520.6,809.18 L523.42,804.87 L526.24,800.47 L529.06,795.96 L531.89,791.36 L534.71,786.65 L537.53,781.83 L540.35,776.91 L543.18,771.89 L546,766.75" fill="none" stroke="#3a3a3a" stroke-width="1.25" stroke-dasharray="4,2.3,1.2,2.3"/>
</svg></body></html>
